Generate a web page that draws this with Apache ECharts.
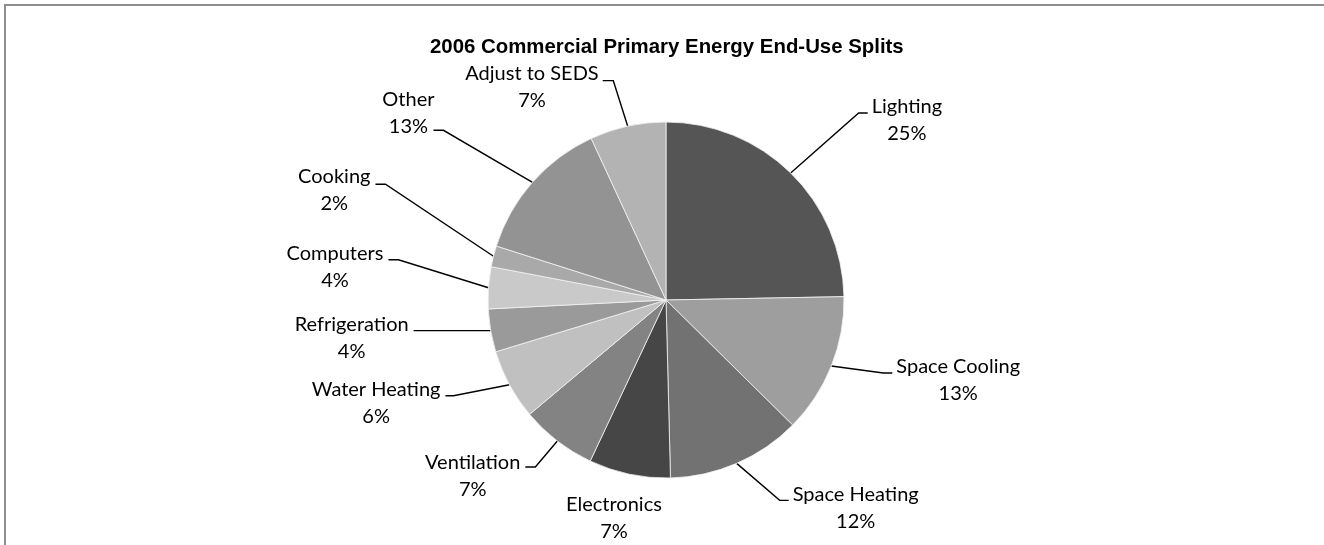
<!DOCTYPE html>
<html>
<head>
<meta charset="utf-8">
<script src="https://cdn.jsdelivr.net/npm/echarts@6.0.0/dist/echarts.min.js"></script>
<style>
  html, body { margin: 0; padding: 0; background: #ffffff; overflow: hidden; }
  #chart { position: absolute; left: 0; top: 0; width: 1324px; height: 545px; }
  #frame { position: absolute; left: 4px; top: 4px; width: 2000px; height: 2000px;
           border-top: 2px solid #8f8f8f; border-left: 2px solid #8f8f8f; pointer-events: none; }
</style>
</head>
<body>
<div id="chart"></div>
<div id="frame"></div>
<script>
// ---- data ----
const titleText = '2006 Commercial Primary Energy End-Use Splits';
const categories = ['Lighting', 'Space Cooling', 'Space Heating', 'Electronics', 'Ventilation',
  'Water Heating', 'Refrigeration', 'Computers', 'Cooking', 'Other', 'Adjust to SEDS'];
const shares = [24.7, 12.7, 12.2, 7.4, 6.9, 6.4, 3.9, 3.8, 1.9, 13.2, 6.9];

// ---- styles ----
const sliceColors = ['#555555', '#9e9e9e', '#727272', '#464646', '#838383',
  '#c0c0c0', '#9a9a9a', '#c9c9c9', '#a9a9a9', '#939393', '#b3b3b3'];
// leader line layout per label (offsets from the slice edge point)
const labelGeom = [
  { bend: [68, -60], run: 9, side: 1, shift: 7.5, gap: 4 },
  { bend: [52, 7], run: 9, side: 1, shift: 7, gap: 4 },
  { bend: [43, 37], run: 9, side: 1, shift: 8, gap: 4 },
  { free: [-15.4, 43.8] },
  { bend: [-22, 26], run: 10, side: -1, shift: 9, gap: 5 },
  { bend: [-56, 11], run: 8, side: -1, shift: 7, gap: 5 },
  { bend: [-72, 0], run: 5, side: -1, shift: 7, gap: 5 },
  { bend: [-90, -28], run: 10, side: -1, shift: 7, gap: 5 },
  { bend: [-108, -72], run: 10, side: -1, shift: 6, gap: 5 },
  { bend: [-89, -52], run: 10, side: -1, shift: -17.7, gap: -1 },
  { bend: [-14.4, -45.5], run: 10.6, side: -1, shift: 6.6, gap: 4 }
];

const chart = echarts.init(document.getElementById('chart'), null, { renderer: 'canvas' });

const seriesData = categories.map((name, i) => ({
  name: name,
  value: shares[i],
  itemStyle: { color: sliceColors[i] }
}));

chart.setOption({
  animation: false,
  backgroundColor: '#ffffff',
  title: {
    text: titleText,
    left: 425,
    top: 32,
    padding: 5,
    textStyle: { fontFamily: 'Liberation Sans, Arial, sans-serif', fontWeight: 'bold', fontSize: 20.4, color: '#000000' }
  },
  series: [{
    type: 'pie',
    center: [666, 300],
    radius: 178,
    startAngle: 90,
    clockwise: true,
    avoidLabelOverlap: false,
    emphasis: { disabled: true },
    itemStyle: { borderColor: '#f2f2f2', borderWidth: 0.8 },
    data: seriesData,
    label: {
      show: true,
      position: 'outside',
      color: '#000000',
      fontFamily: 'Lato, sans-serif',
      fontSize: 20,
      lineHeight: 27,
      formatter: function (p) {
        return '{n|' + p.name + '}\n{p|' + Math.round(p.value) + '%}';
      },
      rich: {
        n: { fontFamily: 'Lato, sans-serif', fontSize: 20, lineHeight: 27, color: '#000000', align: 'center' },
        p: { fontFamily: 'Lato, sans-serif', fontSize: 20, lineHeight: 27, color: '#000000', align: 'center' }
      }
    },
    labelLine: {
      show: true,
      length: 20,
      length2: 10,
      lineStyle: { color: '#000000', width: 1.4 }
    },
    labelLayout: function (p) {
      const g = labelGeom[p.dataIndex];
      const pts = p.labelLinePoints;
      if (!g || !pts) return {};
      const e = pts[0];
      if (g.free) {
        return {
          x: e[0] + g.free[0], y: e[1] + g.free[1],
          align: 'center', verticalAlign: 'middle',
          labelLinePoints: [e, e]
        };
      }
      const b = [e[0] + g.bend[0], e[1] + g.bend[1]];
      const t = [b[0] + g.side * g.run, b[1]];
      return {
        x: t[0] + g.side * g.gap,
        y: t[1] + g.shift,
        align: g.side > 0 ? 'left' : 'right',
        verticalAlign: 'middle',
        labelLinePoints: [e, b, t]
      };
    }
  }]
});
</script>
</body>
</html>
